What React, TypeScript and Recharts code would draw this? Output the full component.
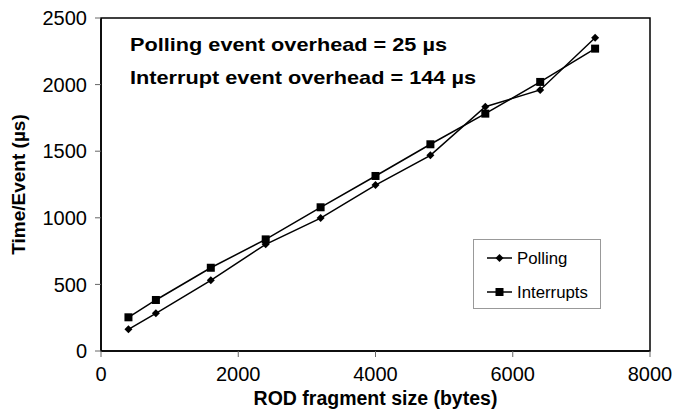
import React from 'react';
import { LineChart, Line, XAxis, YAxis, ReferenceArea } from 'recharts';

const sizes = [400, 800, 1600, 2400, 3200, 4000, 4800, 5600, 6400, 7200];
const polling = [163, 283, 531, 801, 998, 1246, 1469, 1834, 1960, 2352];
const interrupts = [253, 383, 625, 838, 1079, 1314, 1552, 1782, 2020, 2270];
const xTicks = [0, 2000, 4000, 6000, 8000];
const yTicks = [0, 500, 1000, 1500, 2000, 2500];
const seriesNames = ['Polling', 'Interrupts'];
const notes = ['Polling event overhead = 25 µs', 'Interrupt event overhead = 144 µs'];
const xTitle = 'ROD fragment size (bytes)';
const yTitle = 'Time/Event (µs)';

const data = sizes.map((s, i) => ({ size: s, polling: polling[i], interrupts: interrupts[i] }));

const FONT = '"Liberation Sans", Arial, sans-serif';

const Diamond = (props: any) => {
  const { cx, cy, key } = props;
  if (cx == null || cy == null) return null;
  const r = 4;
  return <path key={key} d={`M${cx},${cy - r}L${cx + r},${cy}L${cx},${cy + r}L${cx - r},${cy}Z`} fill="#000" stroke="none" />;
};

const Square = (props: any) => {
  const { cx, cy, key } = props;
  if (cx == null || cy == null) return null;
  const r = 4;
  return <rect key={key} x={cx - r} y={cy - r} width={2 * r} height={2 * r} fill="#000" stroke="none" />;
};

export default function App() {
  return (
    <div style={{ position: 'absolute', left: 0, top: 0, width: 674, height: 413, background: '#fff', fontFamily: FONT }}>
      <LineChart width={674} height={413} data={data} margin={{ top: 18, right: 24, left: 0, bottom: 0 }}>
        <XAxis
          dataKey="size"
          type="number"
          domain={[0, 8000]}
          ticks={xTicks}
          height={62}
          tickSize={6}
          tickMargin={10}
          axisLine={{ stroke: '#000', strokeWidth: 1.5 }}
          tickLine={{ stroke: '#666' }}
          tick={{ fill: '#000', fontSize: 20, fontFamily: FONT }}
          label={{ value: xTitle, position: 'insideBottom', offset: 8, style: { fill: '#000', fontSize: 19.5, fontWeight: 'bold', fontFamily: FONT } }}
        />
        <YAxis
          type="number"
          domain={[0, 2500]}
          ticks={yTicks}
          width={101}
          tickSize={6}
          tickMargin={8}
          axisLine={{ stroke: '#000', strokeWidth: 1.5 }}
          tickLine={{ stroke: '#666' }}
          tick={{ fill: '#000', fontSize: 20, fontFamily: FONT }}
          label={{ value: yTitle, angle: -90, position: 'insideLeft', offset: 18, style: { textAnchor: 'middle', fill: '#000', fontSize: 19, fontWeight: 'bold', fontFamily: FONT } }}
        />
        <ReferenceArea x1={0} x2={8000} y1={0} y2={2500} fill="none" stroke="#000" strokeWidth={1.5} ifOverflow="visible" />
        <Line dataKey="polling" name={seriesNames[0]} stroke="#000" strokeWidth={1.5} dot={Diamond} isAnimationActive={false} />
        <Line dataKey="interrupts" name={seriesNames[1]} stroke="#000" strokeWidth={1.5} dot={Square} isAnimationActive={false} />
      </LineChart>
      <svg width={674} height={413} style={{ position: 'absolute', left: 0, top: 0, pointerEvents: 'none' }}>
        <text x={130} y={51} fontFamily={FONT} fontWeight="bold" fontSize={19} fill="#000" textLength={317} lengthAdjust="spacingAndGlyphs">{notes[0]}</text>
        <text x={130} y={83.5} fontFamily={FONT} fontWeight="bold" fontSize={19} fill="#000" textLength={346} lengthAdjust="spacingAndGlyphs">{notes[1]}</text>
        <rect x={473.5} y={239.5} width={127} height={69} fill="#fff" stroke="#999" strokeWidth={1} />
        <line x1={487} y1={258} x2={512} y2={258} stroke="#000" strokeWidth={1.5} />
        <path d="M499.5,254L503.5,258L499.5,262L495.5,258Z" fill="#000" />
        <text x={517} y={264} fontFamily={FONT} fontSize={16.8} fill="#000">{seriesNames[0]}</text>
        <line x1={487} y1={292} x2={512} y2={292} stroke="#000" strokeWidth={1.5} />
        <rect x={495.5} y={288} width={8} height={8} fill="#000" />
        <text x={517} y={298} fontFamily={FONT} fontSize={16.8} fill="#000">{seriesNames[1]}</text>
      </svg>
    </div>
  );
}
